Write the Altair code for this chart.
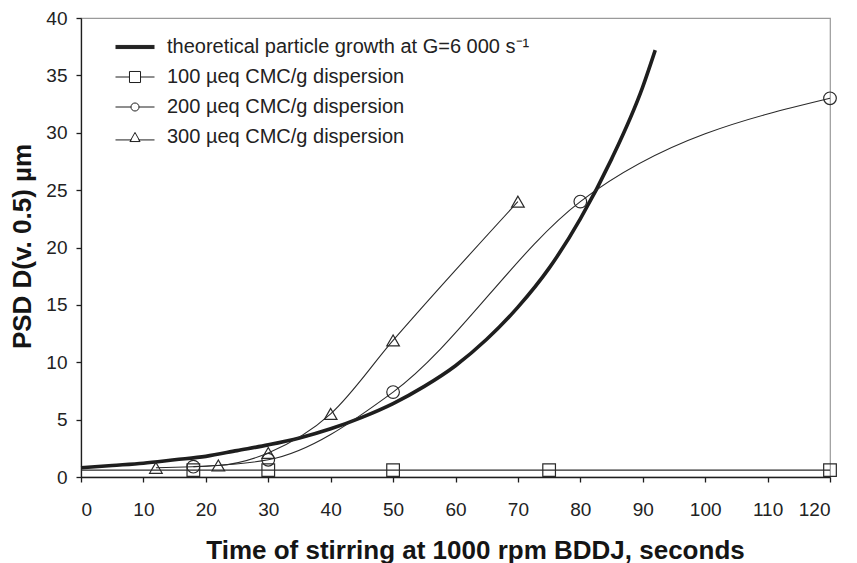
import altair as alt
import pandas as pd

# theoretical curve
theo_x = [0, 5, 10, 15, 20, 25, 30, 35, 40, 45, 50, 55, 60, 65, 70, 75, 80, 85, 90, 92]
theo_y = [0.8, 1.0, 1.2, 1.5, 1.8, 2.3, 2.8, 3.4, 4.2, 5.2, 6.4, 7.9, 9.7, 12.0, 14.8, 18.2, 22.5, 27.7, 34.0, 37.2]

s100_x = [0, 18, 30, 50, 75, 120]
s100_y = [0.6, 0.6, 0.6, 0.6, 0.6, 0.6]
s200_x = [18, 30, 50, 80, 120]
s200_y = [0.9, 1.5, 7.4, 24.0, 33.0]
s300_x = [12, 22, 30, 40, 50, 70]
s300_y = [0.8, 1.0, 2.1, 5.5, 11.9, 24.0]

labels = [
    "theoretical particle growth at G=6 000 s\u207b\u00b9",
    "100 \u00b5eq CMC/g dispersion",
    "200 \u00b5eq CMC/g dispersion",
    "300 \u00b5eq CMC/g dispersion",
]

x_ticks = list(range(0, 125, 5))
y_ticks = list(range(0, 45, 5))

theo = pd.DataFrame({"x": theo_x, "y": theo_y})
rows = []
for lab, xs_, ys_ in [(labels[1], s100_x, s100_y), (labels[2], s200_x, s200_y), (labels[3], s300_x, s300_y)]:
    for xv, yv in zip(xs_, ys_):
        rows.append({"series": lab, "x": xv, "y": yv})
exp = pd.DataFrame(rows)
leg = pd.DataFrame({"series": labels, "x": [60] * 4, "y": [20] * 4})

FONT = "Liberation Sans"
INK = "#1e1e1e"

xs = alt.Scale(domain=[0, 120], nice=False, zero=False)
ys = alt.Scale(domain=[0, 40], nice=False)

xaxis = alt.Axis(values=x_ticks, labelExpr="datum.value % 10 == 0 ? datum.label : ''",
                 title="Time of stirring at 1000 rpm BDDJ, seconds", grid=False,
                 labelPadding=18, titleX=394, titleY=81, titleAlign="center",
                 titleBaseline="alphabetic", titleAnchor="start")
yaxis = alt.Axis(values=y_ticks, title="PSD D(v. 0.5) \u00b5m", grid=False,
                 labelPadding=9, titleX=-59, titleY=228, titleBaseline="middle",
                 titleAlign="center", titleAnchor="start", titleAngle=270)

base_x = alt.X("x:Q", scale=xs, axis=xaxis)
base_y = alt.Y("y:Q", scale=ys, axis=yaxis)

theo_line = alt.Chart(theo).mark_line(color=INK, strokeWidth=3.6, interpolate="monotone").encode(x=base_x, y=base_y)

exp_lines = alt.Chart(exp).mark_line(color="#2a2a2a", strokeWidth=1.1, interpolate="monotone").encode(
    x="x:Q", y="y:Q", detail="series:N")

shape_scale = alt.Scale(domain=labels[1:], range=["square", "circle", "triangle-up"])
exp_points = alt.Chart(exp).transform_filter("datum.x > 0").mark_point(
    filled=False, color="#2a2a2a", strokeWidth=1.2, size=160, opacity=1).encode(
    x="x:Q", y="y:Q", shape=alt.Shape("series:N", scale=shape_scale, legend=None))

paths = [
    "M-3,-0.24H3M-3,-0.08H3M-3,0.08H3M-3,0.24H3",
    "M-3,0H-0.85M0.85,0H3M-0.85,-0.85H0.85V0.85H-0.85Z",
    "M-3,0H-0.62M0.62,0H3M-0.62,0A0.62,0.62 0 1,0 0.62,0A0.62,0.62 0 1,0 -0.62,0Z",
    "M-3,0.45H-0.5M0.5,0.45H3M0,-0.7L0.78,0.7H-0.78Z",
]
legend_layer = alt.Chart(leg).mark_point(filled=False, color=INK, strokeWidth=1, size=169, opacity=0).encode(
    x="x:Q", y="y:Q",
    shape=alt.Shape("series:N", scale=alt.Scale(domain=labels, range=paths),
                    sort=labels,
                    legend=alt.Legend(title=None, orient="none", legendX=44, legendY=19, padding=0,
                                      symbolOpacity=1, symbolStrokeColor=INK, symbolStrokeWidth=1,
                                      symbolSize=169, labelFontSize=20, labelFont=FONT,
                                      labelColor="#222", labelOffset=22, rowPadding=10,
                                      labelLimit=600)))

chart = alt.layer(theo_line, exp_lines, exp_points, legend_layer).resolve_scale(shape="independent").properties(
    width=749, height=459,
    autosize=alt.AutoSizeParams(type="none"),
    padding={"left": 73, "top": 10, "right": 12, "bottom": 95},
).configure_view(stroke="#9a9a9a", strokeWidth=1.2).configure_axis(
    domainColor=INK, tickColor=INK, domainWidth=1.3, tickWidth=1.3, tickSize=5,
    labelFont=FONT, labelFontSize=19, labelColor="#222",
    titleFont=FONT, titleFontSize=26, titleFontWeight="bold", titleColor="#151515"
)

chart.save("out.html", embed_options={"renderer": "svg", "actions": False})
